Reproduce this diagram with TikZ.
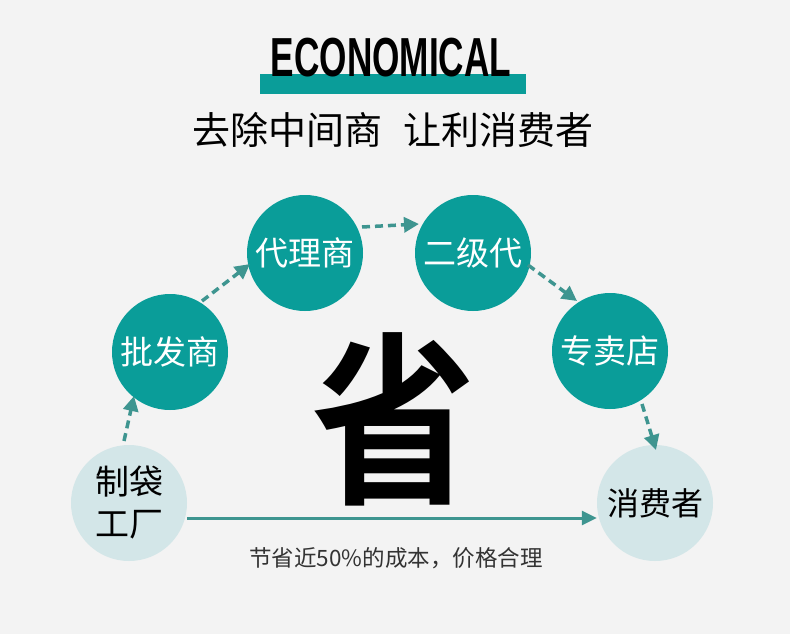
\documentclass[tikz,border=0pt]{standalone}
\usepackage{fontspec}
\usepackage{graphicx}
\setmainfont{Liberation Sans}
\newfontfamily\cjk{Noto Sans CJK SC}
\newfontfamily\cjkbold{Noto Sans CJK SC Bold}
\newfontfamily\titlefont[FakeStretch=0.64]{Liberation Sans Bold}
\usetikzlibrary{arrows.meta}
\definecolor{teal1}{HTML}{0A9D99}
\definecolor{tealarrow}{HTML}{3E9590}
\definecolor{lightc}{HTML}{D3E6E8}
\definecolor{bg}{HTML}{F3F3F3}
\begin{document}
\begin{tikzpicture}[x=1pt,y=-1pt,
  dark/.style={circle,fill=teal1,minimum size=116pt,inner sep=0pt,text=white,font=\cjk\fontsize{33}{36}\selectfont},
  light/.style={circle,fill=lightc,minimum size=116pt,inner sep=0pt,text=black,font=\cjk\fontsize{34}{42}\selectfont,align=center},
  dasharrow/.style={draw=tealarrow,line width=3.5pt,dash pattern=on 8pt off 5pt,-{Triangle[length=15pt,width=15pt]}},
  solidarrow/.style={draw=tealarrow,line width=3pt,-{Triangle[length=15pt,width=14pt]}}]
\fill[bg] (0,0) rectangle (790,634);
\useasboundingbox (0,0) rectangle (790,634);
% title
\fill[teal1] (260,74) rectangle (526,94);
\node (title) at (391,58) {\titlefont\fontsize{55}{60}\selectfont ECONOMICAL};
\node (sub) at (393,130) {\cjk\fontsize{38}{42}\selectfont 去除中间商\hspace{0.55em}让利消费者};
% circles
\node[light] (c1) at (129,503) {制袋\\工厂};
\node[dark] (c2) at (170,352) {批发商};
\node[dark] (c3) at (305,253) {代理商};
\node[dark] (c4) at (473,253) {二级代};
\node[dark] (c5) at (610,351) {专卖店};
\node[light,font=\cjk\fontsize{32}{36}\selectfont] (c6) at (655,503) {消费者};
% big char
\node (big) at (394,419) {\scalebox{0.98}[1.1]{\cjkbold\fontsize{168}{170}\selectfont 省}};
% arrows
\coordinate (a1s) at (124,441); \coordinate (a1e) at (134,396);
\draw[dasharrow] (a1s) -- (a1e);
\coordinate (a2s) at (202,301); \coordinate (a2e) at (250,264);
\draw[dasharrow] (a2s) -- (a2e);
\coordinate (a3s) at (362,227); \coordinate (a3e) at (419,224);
\draw[dasharrow] (a3s) -- (a3e);
\coordinate (a4s) at (528,265); \coordinate (a4e) at (577,301);
\draw[dasharrow] (a4s) -- (a4e);
\coordinate (a5s) at (642,404); \coordinate (a5e) at (656,450);
\draw[dasharrow] (a5s) -- (a5e);
\draw[solidarrow] (c1.east |- 0,518) -- (c6.west |- 0,518);
\node (note) at (396,558) {\cjk\fontsize{22.5}{26}\selectfont\color[HTML]{333333}节省近50\%的成本，价格合理};
\end{tikzpicture}
\end{document}
